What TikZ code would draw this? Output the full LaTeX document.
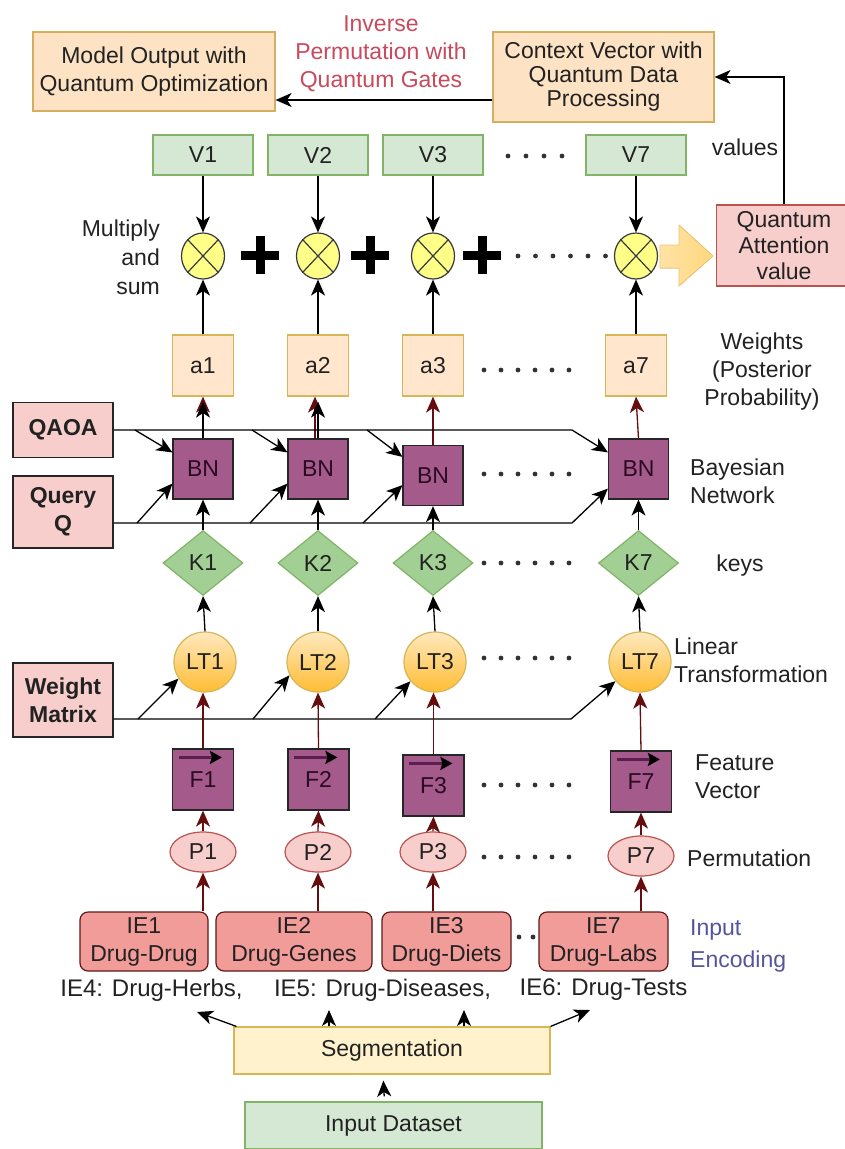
\documentclass[tikz,border=0pt]{standalone}
\usepackage{fontspec}
\setmainfont{Liberation Sans}
\usetikzlibrary{shapes.geometric,arrows.meta,calc}
\definecolor{txt}{HTML}{222222}
\definecolor{orfill}{HTML}{FDE3C4}
\definecolor{ordraw}{HTML}{D6AE62}
\definecolor{afill}{HTML}{FFE6CC}
\definecolor{adraw}{HTML}{D6B656}
\definecolor{gfill}{HTML}{D5E8D4}
\definecolor{gdraw}{HTML}{82B366}
\definecolor{kfill}{HTML}{A2CF93}
\definecolor{yfill}{HTML}{FFFF88}
\definecolor{ydraw}{HTML}{36393D}
\definecolor{pkfill}{HTML}{F8CECC}
\definecolor{pkdraw}{HTML}{B85450}
\definecolor{purp}{HTML}{A55A8C}
\definecolor{purptxt}{HTML}{2B0B22}
\definecolor{iefill}{HTML}{F19C99}
\definecolor{iedraw}{HTML}{5E1A1A}
\definecolor{segfill}{HTML}{FFF2CC}
\definecolor{dred}{HTML}{660E0E}
\definecolor{invred}{HTML}{C84A5E}
\definecolor{encblue}{HTML}{55559B}
\definecolor{fline}{HTML}{5B1E4E}
\definecolor{dotc}{HTML}{333333}
\definecolor{bafill}{HTML}{FFD77F}
\definecolor{badraw}{HTML}{F2C46C}
\tikzset{
  base/.style={line width=1.2pt, inner sep=0pt, align=center, text=txt},
  obox/.style={base, draw=ordraw, fill=orfill},
  vbox/.style={base, draw=gdraw, fill=gfill, minimum width=100pt, minimum height=40pt},
  abox/.style={base, draw=adraw, fill=afill, minimum width=61pt, minimum height=61pt},
  bnbox/.style={base, draw=black!85, fill=purp, text=purptxt, minimum width=60pt, minimum height=60pt},
  fbox/.style={base, draw=black!85, fill=purp, text=purptxt, minimum width=61pt, minimum height=61pt},
  lbox/.style={base, draw=black!85, fill=pkfill, minimum width=100pt, font=\fontsize{23}{28}\selectfont\bfseries},
  kdia/.style={base, diamond, draw=gdraw, fill=kfill, minimum width=80pt, minimum height=65pt},
  ltc/.style={base, ellipse, draw=adraw, top color=yellow!30!orange!25!white, bottom color=orange!65!yellow!80, minimum width=62pt, minimum height=60pt},
  pell/.style={base, ellipse, draw=pkdraw, fill=pkfill, minimum width=66pt, minimum height=40pt},
  mcirc/.style={base, ellipse, draw=ydraw, fill=yfill, minimum width=43pt, minimum height=46pt},
  iebox/.style={base, draw=iedraw, fill=iefill, rounded corners=8pt, minimum height=59pt},
  lab/.style={inner sep=0pt, text=txt},
  arr/.style={draw=black, line width=1.3pt, -{Stealth[length=16pt,width=14pt,inset=4.5pt]}},
  rarr/.style={arr, draw=dred},
  pluss/.style={draw=black, line width=9pt},
}
\begin{document}
\begin{tikzpicture}[x=1pt,y=-1pt,font=\fontsize{23}{28}\selectfont]
\useasboundingbox[fill=white] (0,0) rectangle (845,1149);

% top row
\node[obox, minimum width=242pt, minimum height=79pt] (model) at (154,71.5) {Model Output with\\Quantum Optimization};
\node[obox, minimum width=221pt, minimum height=90pt, font=\fontsize{23}{24}\selectfont] (ctx) at (603.5,77) {Context Vector with\\Quantum Data\\Processing};
\node[lab, text=invred, align=center] (inv) at (381,53.5) {Inverse\\Permutation with\\Quantum Gates};

% values
\node[vbox] (v1) at (203,155) {V1};
\node[vbox] (v2) at (318,155) {V2};
\node[vbox] (v3) at (433,155) {V3};
\node[vbox] (v7) at (636,155) {V7};
\node[lab] (vals) at (745,147) {values};

% multiply circles
\foreach \n/\x in {1/203,2/318,3/433,7/636}{
  \node[mcirc] (m\n) at (\x,256) {};
  \draw[draw=ydraw, line width=1.2pt] (m\n.north east) -- (m\n.south west);
  \draw[draw=ydraw, line width=1.2pt] (m\n.north west) -- (m\n.south east);
}
\foreach \x in {260,370,482}{
  \draw[pluss] (\x-19,255) -- (\x+19,255);
  \draw[pluss] (\x,236) -- (\x,274);
}
\node[lab, align=right, anchor=east, font=\fontsize{23}{29}\selectfont] (mult) at (160,257) {Multiply\\and\\sum};

% quantum attention value
\node[base, draw=pkdraw, fill=pkfill, minimum width=135pt, minimum height=81pt, font=\fontsize{23}{26}\selectfont] (qa) at (784,245.5) {Quantum\\Attention\\value};
\fill[left color=bafill!70!white, right color=bafill, draw=badraw, line width=0.8pt]
  (660,245) -- (679,245) -- (679,225) -- (713,256) -- (679,286) -- (679,268) -- (660,268) -- cycle;

% weights a
\node[abox] (a1) at (203,365.5) {a1};
\node[abox] (a2) at (318,365.5) {a2};
\node[abox] (a3) at (433,365.5) {a3};
\node[abox] (a7) at (636,365.5) {a7};
\node[lab, align=center] (wlab) at (762,372) {Weights\\(Posterior\\Probability)};

% left boxes
\node[lbox, minimum height=55pt] (qaoa) at (63,430) {QAOA};
\node[lbox, minimum height=72pt] (query) at (63,512) {Query\\Q};
\node[lbox, minimum height=74pt] (wm) at (63,700) {Weight\\Matrix};

% BN
\node[bnbox] (bn1) at (203,469) {BN};
\node[bnbox] (bn2) at (318,469) {BN};
\node[bnbox] (bn3) at (433,475.5) {BN};
\node[bnbox] (bn7) at (638.5,469) {BN};
\node[lab, align=left, anchor=west] (bnlab) at (690,481) {Bayesian\\Network};

% K
\node[kdia] (k1) at (203,563) {K1};
\node[kdia] (k2) at (318,563) {K2};
\node[kdia] (k3) at (433,563) {K3};
\node[kdia] (k7) at (638.5,563) {K7};
\node[lab] (keys) at (740,566) {keys};

% LT
\node[ltc] (lt1) at (205,662) {LT1};
\node[ltc] (lt2) at (318,662) {LT2};
\node[ltc] (lt3) at (435,662) {LT3};
\node[ltc] (lt7) at (640,662) {LT7};
\node[lab, align=left, anchor=west] (ltlab) at (674,660) {Linear\\Transformation};

% F
\node[fbox] (f1) at (203,779.5) {F1};
\node[fbox] (f2) at (318.5,779.5) {F2};
\node[fbox] (f3) at (433.5,785.5) {F3};
\node[fbox] (f7) at (641,781.5) {F7};
\foreach \n in {1,2,3,7}{
  \draw[draw=fline, line width=2.6pt, -{Stealth[length=12pt,width=13pt,inset=2pt,color=black]}]
    ([xshift=7pt,yshift=-9pt]f\n.north west) -- ([xshift=50pt,yshift=-9pt]f\n.north west);
}
\node[lab, align=left, anchor=west] (flab) at (695,777) {Feature\\Vector};

% P
\node[pell] (p1) at (203,852) {P1};
\node[pell] (p2) at (318,852) {P2};
\node[pell] (p3) at (433,852) {P3};
\node[pell] (p7) at (641,856) {P7};
\node[lab, anchor=west] (plab) at (687,858) {Permutation};

% IE
\node[iebox, minimum width=128pt] (ie1) at (144,941.5) {IE1\\Drug-Drug};
\node[iebox, minimum width=156pt] (ie2) at (294,941.5) {IE2\\Drug-Genes};
\node[iebox, minimum width=129pt] (ie3) at (446.5,941.5) {IE3\\Drug-Diets};
\node[iebox, minimum width=129pt] (ie7) at (603.5,941.5) {IE7\\Drug-Labs};
\node[lab, align=left, anchor=west, text=encblue, font=\fontsize{23}{32}\selectfont] (ielab) at (690,946) {Input\\Encoding};

\node[lab, font=\fontsize{24}{28}\selectfont] (ie4t) at (151.5,990) {IE4: Drug-Herbs,};
\node[lab, font=\fontsize{24}{28}\selectfont] (ie5t) at (382.5,990) {IE5: Drug-Diseases,};
\node[lab, font=\fontsize{24}{28}\selectfont] (ie6t) at (603.5,990) {IE6: Drug-Tests};

\node[base, draw=adraw, fill=segfill, minimum width=316pt, minimum height=47pt] (seg) at (392,1050.5) {Segmentation};
\node[base, draw=gdraw, fill=gfill, minimum width=297pt, minimum height=47pt] (inp) at (393.5,1125.5) {Input Dataset};

% dots
\foreach \x in {508,526,544,562}{\fill[dotc] (\x,156) circle (2.4pt);}
\foreach \x in {518,535.5,553,570.5,588,605.5}{\fill[dotc] (\x,256) circle (2.4pt);}
\foreach \y in {370,474,563,658,785,857}{
  \foreach \x in {484,501,518,535,552,569}{\fill[dotc] (\x,\y) circle (2.4pt);}
}
\foreach \x in {519,533}{\fill[dotc] (\x,937) circle (2.4pt);}

% connectors top
\draw[arr] (qa.north) |- (ctx.east);
\path (ctx.west) ++(0,23) coordinate (cv);
\draw[arr] (cv) -- (cv -| model.east);

% V -> m, a -> m
\foreach \n in {1,2,3,7}{
  \draw[arr] (v\n.south) -- (m\n.north);
  \draw[arr] (a\n.north) -- (m\n.south);
}

% BN -> a
\draw[rarr] (bn1.north) -- (a1.south);
\draw[arr, shorten >=5pt] (bn1.north) -- (a1.south);
\draw[rarr] ([xshift=-3pt]bn2.north) -- ([xshift=-3pt]a2.south);
\draw[arr, shorten >=5pt] (bn2.north) -- (a2.south);
\draw[rarr] (bn3.north) -- (a3.south);
\draw[rarr] (bn7.north) -- (a7.south);

% QAOA line and branches
\coordinate (qt) at (572,430);
\draw[arr] (qaoa.east) -- (qt) -- ([yshift=-14pt]bn7.north west);
\coordinate (qb1) at (135,430);
\coordinate (qb2) at (252,430);
\coordinate (qb3) at (367,430);
\draw[arr] (qb1) -- ([yshift=-14pt]bn1.north west);
\draw[arr] (qb2) -- ([yshift=-14pt]bn2.north west);
\draw[arr] (qb3) -- ([yshift=-12pt]bn3.north west);

% Query line and branches
\path (query.east) ++(0,11) coordinate (qy0);
\coordinate (qyt) at (572,523);
\draw[arr] (qy0) -- (qyt) -- ([yshift=11pt]bn7.south west);
\coordinate (yb1) at (137,523);
\coordinate (yb2) at (250,523);
\coordinate (yb3) at (363,523);
\draw[arr] (yb1) -- ([yshift=16pt]bn1.south west);
\draw[arr] (yb2) -- ([yshift=16pt]bn2.south west);
\draw[arr] (yb3) -- ([yshift=21pt]bn3.south west);

% K -> BN, LT -> K
\foreach \n in {1,2,3,7}{
  \draw[arr] (k\n.north) -- (bn\n.south);
  \draw[arr] (lt\n.north) -- (k\n.south);
}

% Weight line and branches
\path (wm.east) ++(0,19) coordinate (w0);
\coordinate (wt) at (571,719);
\draw[arr] (w0) -- (wt) -- (lt7.218);
\coordinate (wb1) at (138,719);
\coordinate (wb2) at (253,719);
\coordinate (wb3) at (375,719);
\draw[arr] (wb1) -- (lt1.212);
\draw[arr] (wb2) -- (lt2.205);
\draw[arr] (wb3) -- (lt3.218);

% F -> LT, P -> F, IE -> P
\draw[rarr] (f1.north) -- (f1.north |- lt1.south);
\draw[rarr] (f2.north) -- (lt2.south);
\draw[rarr] (f3.north) -- (f3.north |- lt3.south);
\draw[rarr] (f7.north) -- (lt7.south);
\foreach \n in {1,2,3,7}{
  \draw[rarr] (p\n.north) -- (f\n.south);
  \draw[rarr] (p\n.south |- ie\n.north) -- (p\n.south);
}

% segmentation arrows
\coordinate (t1) at (197,1012);
\coordinate (t2) at (329,1010);
\coordinate (t3) at (464,1010);
\coordinate (t4) at (590,1010);
\draw[arr] ([xshift=3pt]seg.north west) -- (t1);
\draw[arr] (seg.north -| t2) -- (t2);
\draw[arr] (seg.north -| t3) -- (t3);
\draw[arr] (seg.north east) -- (t4);
\draw[arr, shorten <=5pt, shorten >=6pt] ([xshift=-9pt]inp.north) -- ([xshift=-9pt]seg.south);
\end{tikzpicture}
\end{document}
